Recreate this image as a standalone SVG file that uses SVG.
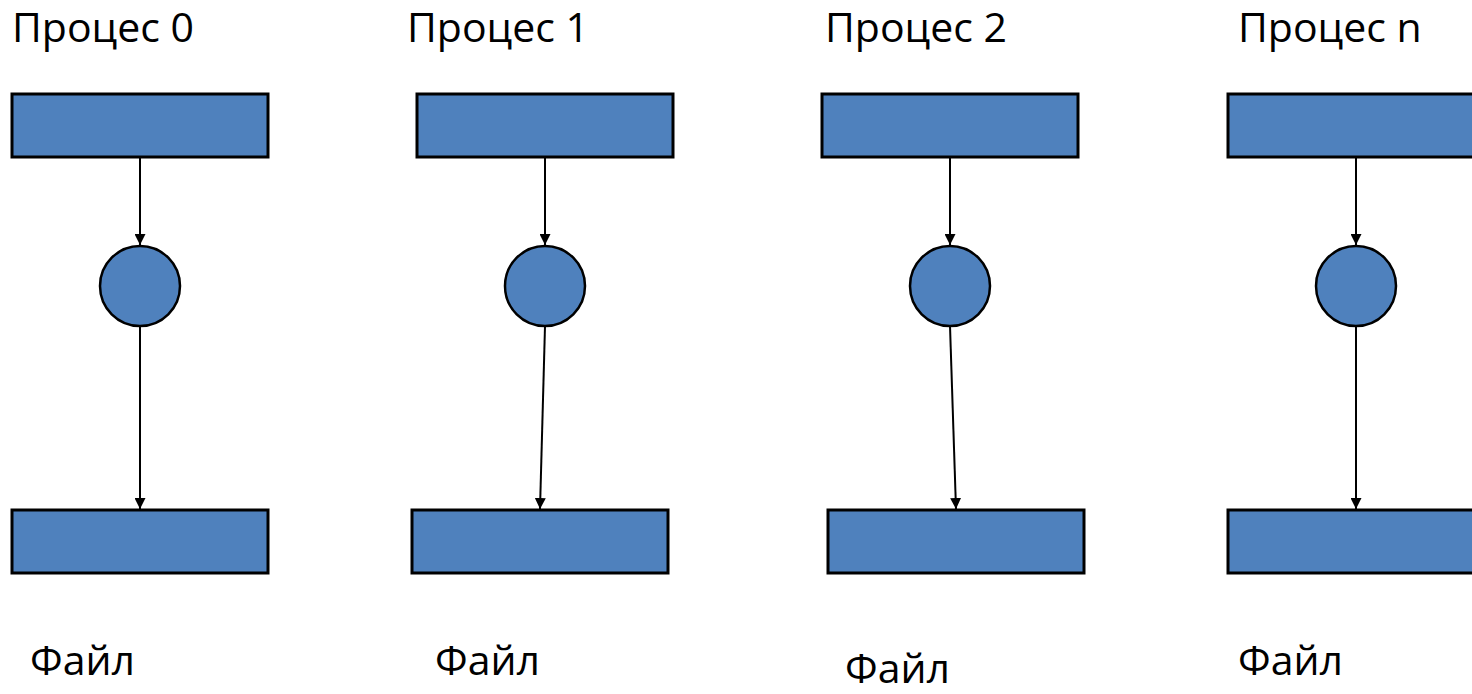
<svg xmlns="http://www.w3.org/2000/svg" width="1472" height="694" viewBox="0 0 1472 694">
  <defs>
    <marker id="arrow" viewBox="0 0 10 10" refX="10" refY="5" markerWidth="11" markerHeight="11" markerUnits="userSpaceOnUse" orient="auto">
      <path d="M0,0 L10,5 L0,10 z" fill="#000"/>
    </marker>
    <style>
      .box { fill: #4f81bd; stroke: #000; stroke-width: 3; }
      .proc { fill: #4f81bd; stroke: #000; stroke-width: 2.5; }
      .edge { stroke: #000; stroke-width: 2; fill: none; marker-end: url(#arrow); }
      .label { font-family: "Open Sans", "Noto Sans", sans-serif; font-size: 41px; fill: #000; }
    </style>
  </defs>
  <rect width="1472" height="694" fill="#fff"/>

  <g id="connectors">
    <line class="edge" x1="140" y1="157" x2="140" y2="245"/>
    <line class="edge" x1="140" y1="326" x2="140" y2="509"/>
    <line class="edge" x1="545" y1="157" x2="545" y2="245"/>
    <line class="edge" x1="545" y1="326" x2="540" y2="509"/>
    <line class="edge" x1="950" y1="157" x2="950" y2="245"/>
    <line class="edge" x1="950" y1="326" x2="956" y2="509"/>
    <line class="edge" x1="1356" y1="157" x2="1356" y2="245"/>
    <line class="edge" x1="1356" y1="326" x2="1356" y2="509"/>
  </g>

  <g id="process-0">
    <text class="label" x="12" y="42">Процес 0</text>
    <rect class="box" x="12" y="94" width="256" height="63"/>
    <circle class="proc" cx="140" cy="286" r="40"/>
    <rect class="box" x="12" y="510" width="256" height="63"/>
    <text class="label" x="30" y="675">Файл</text>
  </g>

  <g id="process-1">
    <text class="label" x="407" y="42">Процес 1</text>
    <rect class="box" x="417" y="94" width="256" height="63"/>
    <circle class="proc" cx="545" cy="286" r="40"/>
    <rect class="box" x="412" y="510" width="256" height="63"/>
    <text class="label" x="435" y="675">Файл</text>
  </g>

  <g id="process-2">
    <text class="label" x="845" y="683">Файл</text>
    <text class="label" x="825" y="42">Процес 2</text>
    <rect class="box" x="822" y="94" width="256" height="63"/>
    <circle class="proc" cx="950" cy="286" r="40"/>
    <rect class="box" x="828" y="510" width="256" height="63"/>
  </g>

  <g id="process-n">
    <text class="label" x="1238" y="42">Процес n</text>
    <rect class="box" x="1228" y="94" width="256" height="63"/>
    <circle class="proc" cx="1356" cy="286" r="40"/>
    <rect class="box" x="1228" y="510" width="256" height="63"/>
    <text class="label" x="1238" y="675">Файл</text>
  </g>
</svg>
